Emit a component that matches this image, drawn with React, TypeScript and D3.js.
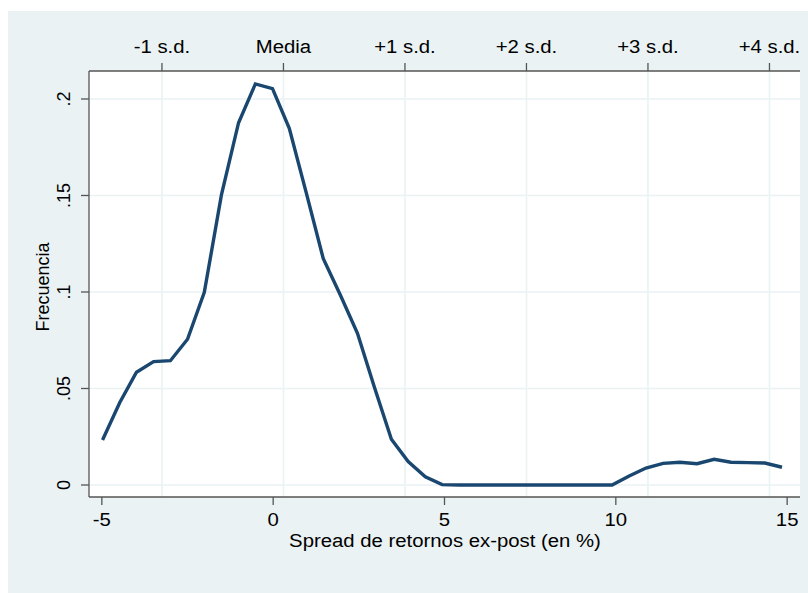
import React from 'react';
import * as d3 from 'd3';

// ---- data ----
const xValues = [
  -4.98, -4.48, -3.99, -3.49, -3.0, -2.5, -2.01, -1.51, -1.01, -0.52,
  -0.02, 0.47, 0.97, 1.46, 1.96, 2.46, 2.95, 3.45, 3.94, 4.44,
  4.93, 5.43, 5.93, 6.42, 6.92, 7.41, 7.91, 8.4, 8.9, 9.4,
  9.89, 10.39, 10.88, 11.38, 11.87, 12.37, 12.87, 13.36, 13.86, 14.35,
  14.85,
];
const density = [
  0.0233, 0.0426, 0.0584, 0.0639, 0.0644, 0.0755, 0.0998, 0.1503, 0.1877, 0.2078,
  0.2054, 0.1848, 0.1511, 0.1174, 0.0984, 0.0786, 0.0509, 0.0237, 0.0121, 0.0043,
  0.0002, 0, 0, 0, 0, 0, 0, 0, 0, 0,
  0, 0.0047, 0.0088, 0.0112, 0.0118, 0.011, 0.0133, 0.0118, 0.0116, 0.0114,
  0.0092,
];
const bottomTicks = [-5, 0, 5, 10, 15];
const leftTicks = [0, 0.05, 0.1, 0.15, 0.2];
const leftTickLabels = ['0', '.05', '.1', '.15', '.2'];
const topTickValues = [-3.246, 0.3, 3.846, 7.392, 10.938, 14.484];
const topTickLabels = ['-1 s.d.', 'Media', '+1 s.d.', '+2 s.d.', '+3 s.d.', '+4 s.d.'];
const xTitle = 'Spread de retornos ex-post (en %)';
const yTitle = 'Frecuencia';

// ---- layout ----
const W = 808;
const H = 593;
const L = 89, R = 800, T = 71, B = 497;
const BG = '#EAF2F3';
const LINE = '#1A476F';
const AXIS = '#555555';
const FONT = "'Liberation Sans', Arial, Helvetica, sans-serif";
const FS = 18;
const SX = 1.13;

const x = d3.scaleLinear().domain([-5.375, 15.375]).range([L, R]);
const y = d3.scaleLinear().domain([-0.00622, 0.2145]).range([B, T]);

function HText({ px, py, children }: { px: number; py: number; children: React.ReactNode }) {
  return (
    <text
      transform={`translate(${px},${py}) scale(${SX},1)`}
      textAnchor="middle"
      fontFamily={FONT}
      fontSize={FS}
      fill="#000"
    >
      {children}
    </text>
  );
}

function VText({ px, py, children }: { px: number; py: number; children: React.ReactNode }) {
  return (
    <text
      transform={`translate(${px},${py}) rotate(-90)`}
      textAnchor="middle"
      fontFamily={FONT}
      fontSize={FS}
      fill="#000"
    >
      {children}
    </text>
  );
}

export default function App() {
  const pts: [number, number][] = xValues.map((v, i) => [v, density[i]]);
  const path = d3
    .line<[number, number]>()
    .x((d) => x(d[0]))
    .y((d) => y(d[1]))(pts) as string;

  return (
    <svg
      width={W}
      height={H}
      style={{ position: 'absolute', left: 0, top: 0, background: '#fff' }}
    >
      <rect x={8} y={11} width={W - 8} height={H - 11} fill={BG} />
      <rect x={L} y={T} width={R - L} height={B - T} fill="#fff" />

      {/* grid */}
      {leftTicks.map((t) => (
        <line key={'gy' + t} x1={L} x2={R} y1={y(t)} y2={y(t)} stroke={BG} strokeWidth={1.6} />
      ))}
      {topTickValues.map((t) => (
        <line key={'gx' + t} x1={x(t)} x2={x(t)} y1={T} y2={B} stroke={BG} strokeWidth={1.6} />
      ))}

      {/* density line */}
      <path d={path} fill="none" stroke={LINE} strokeWidth={3.4} strokeLinejoin="miter" />

      {/* axes */}
      <line x1={L} x2={R} y1={T} y2={T} stroke={AXIS} strokeWidth={1.3} />
      <line x1={L} x2={R} y1={B} y2={B} stroke={AXIS} strokeWidth={1.3} />
      <line x1={L} x2={L} y1={T} y2={B} stroke={AXIS} strokeWidth={1.3} />

      {/* bottom ticks */}
      {bottomTicks.map((t) => (
        <g key={'bt' + t}>
          <line x1={x(t)} x2={x(t)} y1={B} y2={B + 8} stroke={AXIS} strokeWidth={1.3} />
          <HText px={x(t)} py={526}>{String(t)}</HText>
        </g>
      ))}
      <HText px={(L + R) / 2 + 0.5} py={547}>{xTitle}</HText>

      {/* top ticks */}
      {topTickValues.map((t, i) => (
        <g key={'tt' + t}>
          <line x1={x(t)} x2={x(t)} y1={T - 8} y2={T} stroke={AXIS} strokeWidth={1.3} />
          <HText px={x(t)} py={53}>{topTickLabels[i]}</HText>
        </g>
      ))}

      {/* left ticks */}
      {leftTicks.map((t, i) => (
        <g key={'lt' + t}>
          <line x1={L - 8} x2={L} y1={y(t)} y2={y(t)} stroke={AXIS} strokeWidth={1.3} />
          <VText px={70} py={y(t)}>{leftTickLabels[i]}</VText>
        </g>
      ))}
      <VText px={48.5} py={287}>{yTitle}</VText>
    </svg>
  );
}
